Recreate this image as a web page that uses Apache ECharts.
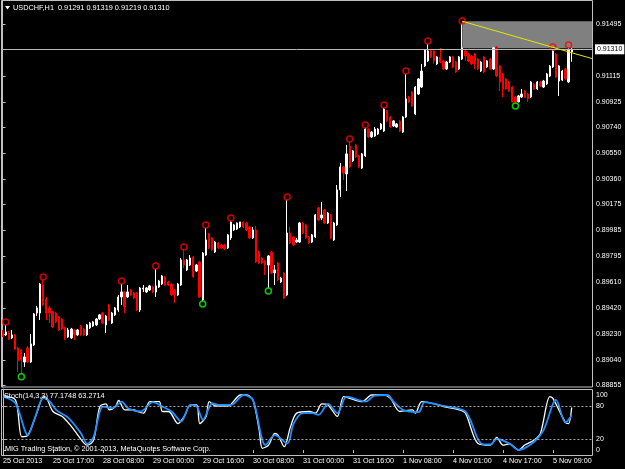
<!DOCTYPE html>
<html>
<head>
<meta charset="utf-8">
<script src="https://cdn.jsdelivr.net/npm/echarts@6/dist/echarts.min.js"></script>
<style>
html, body { margin: 0; padding: 0; background: #000; }
#chart { width: 625px; height: 469px; }
</style>
</head>
<body>
<div id="chart"></div>
<script>
// USDCHF H1 candles
const opens = [
  0.89244,0.89222,0.89236,0.89200,0.89222,0.89127,0.89112,0.89024,0.89127,0.89024,
  0.89148,0.89382,0.89382,0.89587,0.89485,0.89419,0.89390,0.89382,0.89353,0.89338,
  0.89273,0.89207,0.89200,0.89258,0.89222,0.89287,0.89265,0.89222,0.89273,0.89287,
  0.89295,0.89338,0.89382,0.89295,0.89441,0.89309,0.89368,0.89404,0.89499,0.89536,
  0.89499,0.89551,0.89529,0.89529,0.89404,0.89558,0.89536,0.89551,0.89572,0.89536,
  0.89572,0.89594,0.89646,0.89609,0.89594,0.89551,0.89514,0.89587,0.89770,0.89697,
  0.89733,0.89792,0.89689,0.89755,0.89477,0.89806,0.89960,0.89931,0.89828,0.89894,
  0.89879,0.89879,0.89858,0.89931,0.89989,0.89996,0.90011,0.90048,0.90040,0.90011,
  0.89931,0.89989,0.89828,0.89784,0.89763,0.89733,0.89828,0.89675,0.89748,0.89609,
  0.89675,0.89514,0.89967,0.89938,0.89901,0.89901,0.90040,0.90026,0.89938,0.89901,
  0.89938,0.90150,0.90077,0.90135,0.90040,0.90099,0.89916,0.90026,0.90282,0.90450,
  0.90399,0.90603,0.90494,0.90610,0.90530,0.90442,0.90530,0.90727,0.90669,0.90676,
  0.90691,0.90727,0.90713,0.90859,0.90815,0.90749,0.90742,0.90786,0.90705,0.90815,
  0.90961,0.90998,0.90837,0.90983,0.91034,0.91188,0.91225,0.91298,0.91298,0.91203,
  0.91254,0.91225,0.91166,0.91217,0.91254,0.91217,0.91166,0.91239,0.91298,0.91276,
  0.91261,0.91276,0.91239,0.91151,0.91254,0.91181,0.91239,0.91166,0.91327,0.91188,
  0.91129,0.91093,0.91071,0.91034,0.90961,0.90925,0.90961,0.91005,0.90983,0.90961,
  0.91056,0.91020,0.91071,0.91034,0.91056,0.91115,0.91181,0.91276,0.91078,0.91086,
  0.91166,0.91071,0.91291
];
const closes = [
  0.89214,0.89244,0.89192,0.89222,0.89119,0.89032,0.89039,0.89061,0.89024,0.89156,
  0.89375,0.89419,0.89594,0.89441,0.89382,0.89382,0.89280,0.89317,0.89258,0.89265,
  0.89207,0.89258,0.89265,0.89222,0.89258,0.89222,0.89222,0.89295,0.89309,0.89317,
  0.89338,0.89368,0.89309,0.89360,0.89331,0.89382,0.89419,0.89499,0.89536,0.89426,
  0.89536,0.89514,0.89492,0.89404,0.89565,0.89565,0.89565,0.89580,0.89536,0.89580,
  0.89616,0.89653,0.89587,0.89587,0.89514,0.89514,0.89594,0.89770,0.89733,0.89770,
  0.89784,0.89646,0.89733,0.89499,0.89821,0.89916,0.89858,0.89843,0.89901,0.89858,
  0.89858,0.89850,0.89953,0.90048,0.90026,0.90040,0.90048,0.90011,0.89989,0.89931,
  0.89989,0.89755,0.89748,0.89748,0.89733,0.89799,0.89675,0.89697,0.89624,0.89638,
  0.89492,0.89967,0.89894,0.89879,0.89916,0.90040,0.89967,0.89931,0.89894,0.89953,
  0.90099,0.90062,0.90099,0.90040,0.90113,0.89931,0.90040,0.90282,0.90450,0.90406,
  0.90545,0.90450,0.90567,0.90523,0.90450,0.90545,0.90727,0.90669,0.90705,0.90727,
  0.90727,0.90764,0.90874,0.90786,0.90742,0.90786,0.90764,0.90713,0.90815,0.90947,
  0.90925,0.90896,0.91034,0.91093,0.91151,0.91305,0.91298,0.91254,0.91225,0.91254,
  0.91217,0.91166,0.91217,0.91254,0.91181,0.91144,0.91254,0.91320,0.91261,0.91225,
  0.91203,0.91203,0.91166,0.91217,0.91144,0.91225,0.91166,0.91320,0.91115,0.91071,
  0.91020,0.91020,0.91005,0.90925,0.90925,0.90969,0.90983,0.90961,0.90947,0.91071,
  0.91020,0.91071,0.91042,0.91078,0.91129,0.91188,0.91298,0.91107,0.91188,0.91151,
  0.91093,0.91305,0.91310
];
const highs = [
  0.89258,0.89295,0.89251,0.89258,0.89229,0.89134,0.89119,0.89090,0.89141,0.89229,
  0.89382,0.89434,0.89602,0.89624,0.89499,0.89434,0.89397,0.89390,0.89360,0.89346,
  0.89280,0.89273,0.89273,0.89265,0.89265,0.89295,0.89273,0.89302,0.89317,0.89324,
  0.89346,0.89375,0.89390,0.89368,0.89448,0.89390,0.89426,0.89514,0.89594,0.89543,
  0.89587,0.89558,0.89536,0.89536,0.89572,0.89587,0.89572,0.89587,0.89580,0.89704,
  0.89624,0.89660,0.89653,0.89616,0.89602,0.89558,0.89602,0.89784,0.89843,0.89777,
  0.89806,0.89799,0.89741,0.89763,0.89828,0.90004,0.89967,0.89938,0.89909,0.89901,
  0.89887,0.89887,0.89960,0.90055,0.90033,0.90044,0.90048,0.90052,0.90048,0.90018,
  0.90011,0.90018,0.89836,0.89792,0.89770,0.89806,0.89836,0.89733,0.89755,0.89646,
  0.89682,0.90208,0.90011,0.89945,0.89931,0.90048,0.90048,0.90033,0.89945,0.89960,
  0.90106,0.90157,0.90194,0.90143,0.90121,0.90106,0.90048,0.90318,0.90479,0.90457,
  0.90611,0.90632,0.90574,0.90618,0.90537,0.90552,0.90735,0.90730,0.90713,0.90742,
  0.90735,0.90771,0.90881,0.90866,0.90822,0.90793,0.90771,0.90793,0.90822,0.91129,
  0.90969,0.91005,0.91042,0.91100,0.91203,0.91312,0.91349,0.91305,0.91305,0.91261,
  0.91320,0.91232,0.91225,0.91261,0.91261,0.91225,0.91261,0.91495,0.91305,0.91283,
  0.91268,0.91283,0.91246,0.91225,0.91261,0.91232,0.91246,0.91327,0.91334,0.91195,
  0.91137,0.91100,0.91078,0.91042,0.90969,0.90976,0.91020,0.91012,0.90991,0.91078,
  0.91064,0.91078,0.91078,0.91086,0.91137,0.91195,0.91305,0.91283,0.91195,0.91159,
  0.91173,0.91320,0.91319
];
const lows = [
  0.89207,0.89214,0.89185,0.89192,0.89112,0.88951,0.88937,0.88988,0.89017,0.89017,
  0.89141,0.89360,0.89331,0.89434,0.89331,0.89309,0.89273,0.89309,0.89251,0.89258,
  0.89185,0.89200,0.89192,0.89185,0.89214,0.89214,0.89214,0.89214,0.89265,0.89280,
  0.89287,0.89331,0.89302,0.89236,0.89324,0.89302,0.89360,0.89390,0.89441,0.89382,
  0.89492,0.89507,0.89485,0.89397,0.89390,0.89536,0.89529,0.89543,0.89529,0.89499,
  0.89565,0.89587,0.89580,0.89580,0.89507,0.89456,0.89507,0.89580,0.89711,0.89689,
  0.89726,0.89638,0.89682,0.89492,0.89470,0.89799,0.89850,0.89836,0.89821,0.89850,
  0.89850,0.89843,0.89850,0.89916,0.89982,0.89989,0.90004,0.90004,0.89982,0.89923,
  0.89923,0.89748,0.89741,0.89741,0.89660,0.89565,0.89668,0.89587,0.89616,0.89602,
  0.89485,0.89507,0.89887,0.89872,0.89894,0.89894,0.89960,0.89923,0.89887,0.89894,
  0.89931,0.90055,0.90062,0.90033,0.90033,0.89923,0.89909,0.90018,0.90230,0.90355,
  0.90274,0.90442,0.90486,0.90515,0.90442,0.90435,0.90523,0.90662,0.90662,0.90669,
  0.90684,0.90720,0.90705,0.90779,0.90735,0.90742,0.90735,0.90705,0.90698,0.90808,
  0.90917,0.90888,0.90830,0.90976,0.91027,0.91181,0.91217,0.91246,0.91203,0.91195,
  0.91210,0.91159,0.91159,0.91210,0.91173,0.91137,0.91159,0.91232,0.91225,0.91217,
  0.91195,0.91166,0.91159,0.91144,0.91137,0.91173,0.91159,0.91159,0.91107,0.91005,
  0.90961,0.91012,0.90998,0.90922,0.90917,0.90924,0.90954,0.90954,0.90925,0.90954,
  0.91012,0.91012,0.91034,0.91027,0.91049,0.91107,0.91173,0.91100,0.90969,0.91078,
  0.91086,0.91064,0.91219
];

// bars marked with circles
const upMarks = [1, 13, 38, 49, 58, 65, 73, 91, 111, 116, 122, 129, 136, 147, 176, 181];
const downMarks = [6, 64, 85, 164];

// Stochastic(14,3,3): [bar, value]
const stochMain = [
  [0,97],[4,91],[6,24],[8,27],[11,70],[13,97],[14,94],[16,70],[19,61],[22,42],[26,12],[27,9],
  [29,18],[31,79],[33,84],[34,73],[36,79],[37,90],[39,73],[42,73],[43,70],[45,67],[47,88],
  [50,88],[51,70],[53,70],[56,48],[58,61],[60,82],[62,82],[63,48],[65,61],[66,88],[68,80],
  [72,80],[76,100],[78,100],[80,91],[82,36],[83,3],[85,9],[87,30],[88,27],[90,6],[92,42],
  [94,67],[98,70],[100,67],[102,84],[104,82],[107,61],[109,97],[111,94],[115,88],[118,100],
  [122,100],[124,94],[127,70],[131,73],[132,67],[134,88],[138,84],[141,79],[146,73],[148,67],
  [152,12],[156,9],[158,23],[160,9],[162,11],[165,0],[167,9],[170,18],[172,30],[175,97],
  [176,94],[180,50],[181,48],[182,77.1748]
];
const stochSignal = [
  [0,97],[4,85],[8,27],[10,55],[13,95],[15,88],[17,73],[21,58],[25,30],[27,11],[29,24],
  [32,79],[35,76],[38,88],[40,76],[44,70],[48,87],[51,79],[54,70],[57,52],[60,82],[62,79],
  [64,55],[67,85],[69,82],[73,82],[77,100],[80,91],[84,9],[87,27],[91,12],[93,48],[96,67],
  [99,67],[101,64],[104,84],[107,67],[110,97],[116,88],[119,99],[123,100],[125,88],[128,73],
  [133,69],[135,87],[141,80],[148,70],[153,12],[156,10],[158,20],[162,12],[165,0],[170,15],
  [173,36],[177,91],[180,50],[182,63.2714]
];
const stochLevels = [20, 80];

// objects drawn on the chart
const bidPrice = 0.91310;
const boxFrom = 147, boxTop = 0.91515, boxBottom = 0.91318;
const trendX = [147, 188.5];
const trendY = [0.91515, 0.91242];

// axes
const barCount = 189;
const priceMin = 0.88841, priceMax = 0.91663;
const priceTicks = [0.91495, 0.91115, 0.90925, 0.90740, 0.90550, 0.90360, 0.90175,
  0.89985, 0.89795, 0.89610, 0.89420, 0.89230, 0.89040, 0.88855];
const stochTicks = [0, 20, 80, 100];
const timeLabels = ['25 Oct 2013', '25 Oct 17:00', '28 Oct 08:00', '29 Oct 00:00',
  '29 Oct 16:00', '30 Oct 08:00', '31 Oct 00:00', '31 Oct 16:00', '1 Nov 08:00',
  '4 Nov 01:00', '4 Nov 17:00', '5 Nov 09:00'];
const labelStep = 16;

const FONT = 'Liberation Sans';
const cats = Array.from({ length: barCount }, (_, i) => String(i));
const candles = opens.map((o, i) => [o, closes[i], lows[i], highs[i]]);
const isTimeTick = i => i % labelStep === 0 && i / labelStep < timeLabels.length;

const chart = echarts.init(document.getElementById('chart'));

chart.setOption({
  backgroundColor: '#000',
  animation: false,
  grid: [
    { left: 1, right: 33, top: 1, height: 386 },
    { left: 1, right: 33, top: 389, height: 66 }
  ],
  xAxis: [
    { type: 'category', gridIndex: 0, data: cats, show: false },
    { type: 'value', gridIndex: 0, min: -0.5, max: barCount - 0.5, show: false },
    {
      type: 'category', gridIndex: 1, data: cats,
      axisLine: { show: false },
      axisTick: {
        show: true, alignWithLabel: true, interval: isTimeTick, length: 3,
        lineStyle: { color: '#c0c0c0' }
      },
      axisLabel: {
        interval: isTimeTick,
        formatter: (v, i) => timeLabels[i / labelStep],
        align: 'left', color: '#fff', fontSize: 7.2, fontFamily: FONT, margin: 3
      },
      splitLine: { show: false }
    },
    { type: 'value', gridIndex: 1, min: -0.5, max: barCount - 0.5, show: false }
  ],
  yAxis: [
    {
      type: 'value', gridIndex: 0, position: 'right', min: priceMin, max: priceMax,
      axisLine: { show: true, lineStyle: { color: '#c0c0c0' } },
      axisTick: { show: true, customValues: priceTicks, length: 3, lineStyle: { color: '#c0c0c0' } },
      axisLabel: {
        customValues: priceTicks, formatter: v => v.toFixed(5),
        color: '#fff', fontSize: 7, fontFamily: FONT, margin: 4
      },
      splitLine: { show: false }
    },
    {
      type: 'value', gridIndex: 1, position: 'right', min: -9.1, max: 110.9,
      axisLine: { show: true, lineStyle: { color: '#c0c0c0' } },
      axisTick: { show: true, customValues: stochTicks, length: 3, lineStyle: { color: '#c0c0c0' } },
      axisLabel: {
        customValues: stochTicks, color: '#fff', fontSize: 7, fontFamily: FONT, margin: 4
      },
      splitLine: { show: false }
    }
  ],
  series: [
    {
      // grey rectangle object and the bid line, behind the bars
      type: 'line', xAxisIndex: 1, yAxisIndex: 0, data: [], z: 1,
      markArea: {
        silent: true,
        itemStyle: { color: '#808080', opacity: 1 },
        data: [[{ xAxis: boxFrom, yAxis: boxTop }, { xAxis: barCount - 0.5, yAxis: boxBottom }]]
      },
      markLine: {
        silent: true, symbol: 'none',
        lineStyle: { color: '#b8b8b8', width: 1, type: 'solid' },
        label: {
          position: 'end', formatter: bidPrice.toFixed(5), distance: 3,
          backgroundColor: '#fff', color: '#000', fontSize: 7, fontFamily: FONT,
          padding: [2, 2, 1, 2]
        },
        data: [[{ xAxis: -0.5, yAxis: bidPrice }, { xAxis: barCount - 0.5, yAxis: bidPrice }]]
      }
    },
    {
      type: 'candlestick', xAxisIndex: 0, yAxisIndex: 0, data: candles, z: 3,
      barWidth: 1.8,
      itemStyle: {
        color: '#ffffff', color0: '#ff0000',
        borderColor: '#ffffff', borderColor0: '#ff0000', borderWidth: 1
      }
    },
    {
      type: 'scatter', xAxisIndex: 0, yAxisIndex: 0, z: 4,
      data: upMarks.map(i => [i, highs[i]]),
      symbol: 'circle', symbolSize: 6, symbolOffset: [0, -3],
      itemStyle: { color: 'rgba(0,0,0,0)', borderColor: '#ff0000', borderWidth: 1.5 }
    },
    {
      type: 'scatter', xAxisIndex: 0, yAxisIndex: 0, z: 4,
      data: downMarks.map(i => [i, lows[i]]),
      symbol: 'circle', symbolSize: 6, symbolOffset: [0, 3],
      itemStyle: { color: 'rgba(0,0,0,0)', borderColor: '#00ff00', borderWidth: 1.5 }
    },
    {
      type: 'line', xAxisIndex: 1, yAxisIndex: 0, z: 5,
      data: trendX.map((x, i) => [x, trendY[i]]),
      symbol: 'none', lineStyle: { color: '#e6e600', width: 1 }
    },
    {
      type: 'line', xAxisIndex: 3, yAxisIndex: 1, data: stochMain, z: 3,
      symbol: 'none', smooth: 0.3,
      lineStyle: { color: '#ffffff', width: 1.3 },
      markLine: {
        silent: true, symbol: 'none', label: { show: false },
        lineStyle: { color: '#a8a8a8', width: 1, type: [2, 2] },
        data: stochLevels.map(v => ({ yAxis: v }))
      }
    },
    {
      type: 'line', xAxisIndex: 3, yAxisIndex: 1, data: stochSignal, z: 4,
      symbol: 'none', smooth: 0.3,
      lineStyle: { color: '#1e90ff', width: 1.8 }
    }
  ],
  graphic: [
    {
      type: 'rect', silent: true, z: 10,
      shape: { x: 1.5, y: 0.5, width: 591, height: 386.5 },
      style: { fill: null, stroke: '#c0c0c0', lineWidth: 1 }
    },
    {
      type: 'rect', silent: true, z: 10,
      shape: { x: 1.5, y: 389.5, width: 591, height: 66 },
      style: { fill: null, stroke: '#c0c0c0', lineWidth: 1 }
    },
    {
      type: 'polygon', silent: true, z: 10,
      shape: { points: [[5, 6], [10, 6], [7.5, 9.5]] },
      style: { fill: '#fff' }
    },
    {
      type: 'text', silent: true, z: 10, left: 13, top: 4,
      style: {
        text: 'USDCHF,H1  0.91291 0.91319 0.91219 0.91310',
        fill: '#fff', font: '7.3px "Liberation Sans"'
      }
    },
    {
      type: 'text', silent: true, z: 10, left: 4, top: 392,
      style: {
        text: 'Stoch(14,3,3) 77.1748 63.2714',
        fill: '#fff', font: '7.3px "Liberation Sans"'
      }
    },
    {
      type: 'text', silent: true, z: 10, left: 5, top: 445,
      style: {
        text: 'MIG Trading Station, \u00a9 2001-2013, MetaQuotes Software Corp.',
        fill: '#fff', font: '7.3px "Liberation Sans"'
      }
    }
  ]
});
</script>
</body>
</html>
